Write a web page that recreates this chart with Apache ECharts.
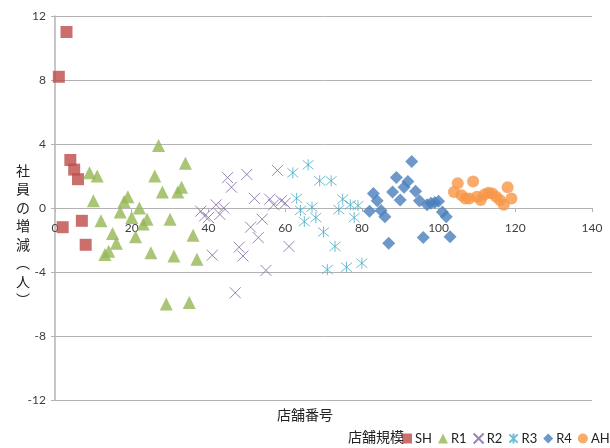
<!DOCTYPE html>
<html>
<head>
<meta charset="utf-8">
<script src="https://cdn.jsdelivr.net/npm/echarts@6/dist/echarts.min.js"></script>
<style>
  html, body { margin: 0; padding: 0; background: #ffffff; }
  #chart { width: 610px; height: 448px; }
</style>
</head>
<body>
<div id="chart"></div>
<script>
// Store-number axis and staff-change axis tick values
const xTicks = [0, 20, 40, 60, 80, 100, 120, 140];
const yTicks = [-12, -8, -4, 0, 4, 8, 12];

// Store size groups
const groupNames = ['SH', 'R1', 'R2', 'R3', 'R4', 'AH'];

// SH
const shX = [1, 2, 3, 4, 5, 6, 7, 8];
const shY = [8.2, -1.2, 11, 3, 2.4, 1.8, -0.8, -2.3];

// R1
const r1X = [9, 10, 11, 12, 13, 14, 15, 16, 17, 18, 19, 20, 21, 22, 23, 24, 25, 26, 27, 28, 29, 30, 31, 32, 33, 34, 35, 36, 37];
const r1Y = [2.2, 0.45, 2.0, -0.8, -2.9, -2.7, -1.6, -2.2, -0.25, 0.4, 0.7, -0.6, -1.8, 0, -1.0, -0.7, -2.8, 2.0, 3.9, 1.0, -6.0, -0.7, -3.0, 1.0, 1.3, 2.8, -5.9, -1.7, -3.2];

// R2
const r2X = [38, 39, 40, 41, 42, 43, 44, 45, 46, 47, 48, 49, 50, 51, 52, 53, 54, 55, 56, 57, 58, 59, 60, 61];
const r2Y = [-0.2, -0.5, -0.6, -2.95, 0.2, -0.4, 0.0, 1.9, 1.3, -5.3, -2.45, -3.0, 2.1, -1.2, 0.6, -1.85, -0.7, -3.9, 0.55, 0.2, 2.35, 0.45, 0.3, -2.4];

// R3
const r3X = [62, 63, 64, 65, 66, 67, 68, 69, 70, 71, 72, 73, 74, 75, 76, 77, 78, 79, 80];
const r3Y = [2.2, 0.6, -0.15, -0.85, 2.7, 0.05, -0.6, 1.7, -1.5, -3.85, 1.7, -2.4, -0.1, 0.55, -3.7, 0.2, -0.6, 0.15, -3.45];

// R4
const r4X = [82, 83, 84, 85, 86, 87, 88, 89, 90, 91, 92, 93, 94, 95, 96, 97, 98, 99, 100, 101, 102, 103];
const r4Y = [-0.2, 0.9, 0.45, -0.15, -0.55, -2.2, 1.0, 1.9, 0.5, 1.3, 1.65, 2.9, 1.05, 0.45, -1.85, 0.2, 0.3, 0.35, 0.42, -0.25, -0.55, -1.8];

// AH
const ahX = [104, 105, 106, 107, 108, 109, 110, 111, 112, 113, 114, 115, 116, 117, 118, 119];
const ahY = [1.0, 1.55, 0.8, 0.6, 0.6, 1.65, 0.7, 0.5, 0.85, 0.95, 0.9, 0.7, 0.5, 0.2, 1.3, 0.6];

const pairs = (xs, ys) => xs.map((x, i) => [x, ys[i]]);

const crossPath = 'path://M0 0L10 10M10 0L0 10';
const starPath = 'path://M0 0L10 10M10 0L0 10M5 -1L5 11';

const seriesDefs = [
  { data: pairs(shX, shY), symbol: 'rect', size: 12, style: { color: '#BE4B48' } },
  { data: pairs(r1X, r1Y), symbol: 'triangle', size: 13, style: { color: '#93B653' } },
  { data: pairs(r2X, r2Y), symbol: crossPath, size: 11, style: { color: 'rgba(0,0,0,0)', borderColor: '#8064A2', borderWidth: 1 } },
  { data: pairs(r3X, r3Y), symbol: starPath, size: 11, style: { color: 'rgba(0,0,0,0)', borderColor: '#4BACC6', borderWidth: 1 } },
  { data: pairs(r4X, r4Y), symbol: 'diamond', size: 13, style: { color: '#4A7EBB' } },
  { data: pairs(ahX, ahY), symbol: 'circle', size: 12, style: { color: '#F79646' } }
];

const axisGray = '#b3b3b3';
const labelColor = '#404040';
const cjkFont = '"Noto Sans CJK JP", "Noto Sans", sans-serif';
const latinFont = 'Lato, "Liberation Sans", sans-serif';

const gridTop = 16;
const gridHeight = 384;

const chart = echarts.init(document.getElementById('chart'), null, { renderer: 'canvas' });

chart.setOption({
  animation: false,
  backgroundColor: '#ffffff',
  title: [
    {
      text: '店舗番号',
      left: 'center',
      top: 403,
      textStyle: { fontFamily: cjkFont, fontSize: 14, fontWeight: 'normal', color: '#222' }
    },
    {
      text: '社\n員\nの\n増\n減\n︵\n人\n︶',
      left: 11,
      top: 156,
      textStyle: { fontFamily: cjkFont, fontSize: 14, fontWeight: 'normal', color: '#222', lineHeight: 18.5 }
    },
    {
      text: '店舗規模',
      left: 348,
      top: 430,
      padding: 0,
      textStyle: { fontFamily: cjkFont, fontSize: 14, fontWeight: 'normal', color: '#222' }
    }
  ],
  legend: {
    data: groupNames,
    left: 402,
    top: 432,
    width: 208,
    padding: 0,
    itemWidth: 10,
    itemHeight: 10,
    itemGap: 6,
    textStyle: { fontFamily: latinFont, fontSize: 13, color: '#222', padding: [0, 0, 0, -2] }
  },
  grid: { left: 55, top: gridTop, width: 537, height: gridHeight, containLabel: false },
  xAxis: {
    type: 'value',
    position: 'bottom',
    // axis sits on the y = 0 line
    offset: -gridHeight / 2,
    min: xTicks[0],
    max: xTicks[xTicks.length - 1],
    interval: xTicks[1] - xTicks[0],
    axisLine: { show: true, onZero: false, lineStyle: { color: axisGray, width: 1 } },
    axisTick: { show: true, length: 4, lineStyle: { color: axisGray } },
    axisLabel: { color: labelColor, fontFamily: latinFont, fontSize: 12, margin: 14 },
    splitLine: { show: false }
  },
  yAxis: {
    type: 'value',
    min: yTicks[0],
    max: yTicks[yTicks.length - 1],
    interval: yTicks[1] - yTicks[0],
    axisLine: { show: true, onZero: false, lineStyle: { color: axisGray, width: 1.5 } },
    axisTick: { show: true, length: 4, lineStyle: { color: axisGray } },
    axisLabel: { color: labelColor, fontFamily: latinFont, fontSize: 12, margin: 9 },
    splitLine: { show: true, lineStyle: { color: axisGray, width: 1 } }
  },
  series: seriesDefs.map((d, i) => ({
    name: groupNames[i],
    type: 'scatter',
    data: d.data,
    symbol: d.symbol,
    symbolSize: d.size,
    itemStyle: d.style,
    emphasis: { disabled: true }
  }))
});
</script>
</body>
</html>
